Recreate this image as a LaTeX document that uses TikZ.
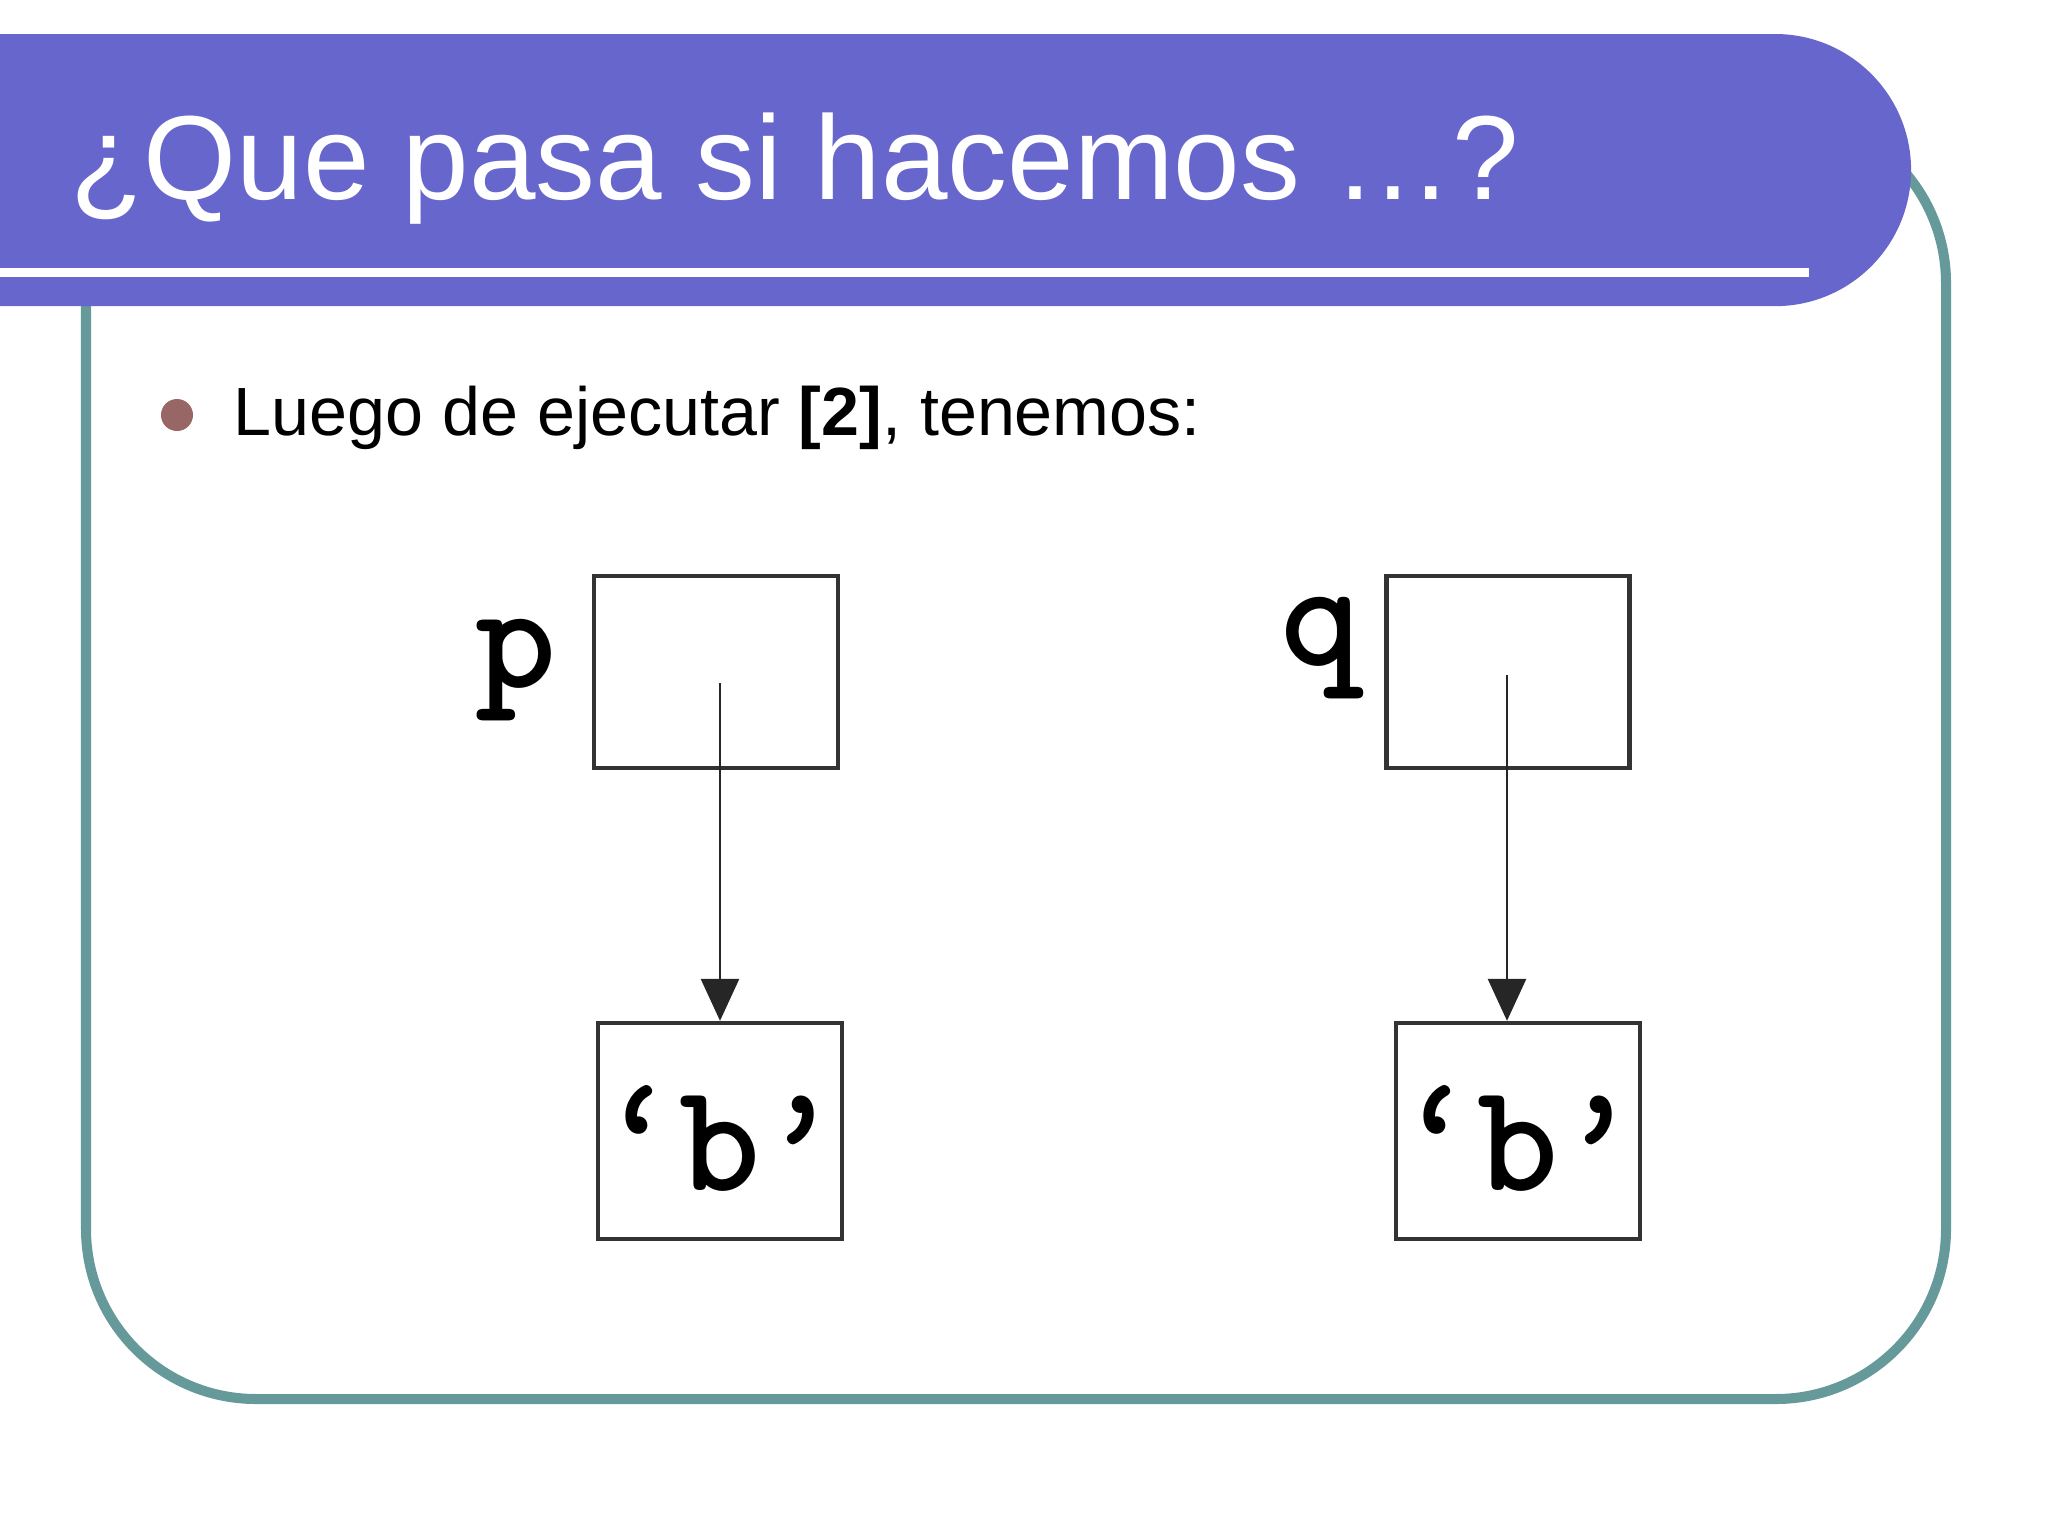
\documentclass[tikz,border=0pt]{standalone}
\usepackage{fontspec}
\setmainfont{Liberation Sans}
\usepackage{xcolor}
\usetikzlibrary{shapes,arrows,positioning,arrows.meta}

\definecolor{bandblue}{RGB}{102,102,204}
\definecolor{frameteal}{RGB}{102,153,153}
\definecolor{dotbrown}{RGB}{153,102,102}

\tikzset{
    cellbox/.style={draw=black!80, line width=1.2pt, inner sep=0pt},
    cellfont/.style={font=\fontsize{44pt}{44pt}\selectfont\ttfamily\bfseries},
    ptr/.style={draw=black!85, line width=0.8pt, -{Triangle[length=0.42cm,width=0.38cm]}}
}

\begin{document}
\begin{tikzpicture}[x=0.01cm, y=0.01cm]
    \useasboundingbox (0,0) rectangle (2048,-1536);

    % Slide frame and title band
    \draw[frameteal, line width=2.85pt, rounded corners=1.7cm] (86,-113) rectangle (1946,-1399);
    \fill[bandblue] (0,-34) -- (1775,-34) arc[start angle=90, end angle=-90, radius=1.36cm] -- (0,-306) -- cycle;
    \fill[white] (0,-268) rectangle (1809,-277);
    \node[anchor=base west, inner sep=0pt, text=white, font=\fontsize{34pt}{34pt}\selectfont]
        (title) at (70,-199) {¿Que pasa si hacemos …?};

    % Bullet line
    \fill[dotbrown] (177,-415) circle[radius=0.16cm];
    \node[anchor=base west, inner sep=0pt, font=\fontsize{19.4pt}{19.4pt}\selectfont]
        (item) at (233,-435) {Luego de ejecutar \textbf{[2]}, tenemos:};

    % Pointer cells
    \node[cellbox, minimum width=2.44cm, minimum height=1.92cm] (pbox) at (716,-672) {};
    \node[cellbox, minimum width=2.43cm, minimum height=1.92cm] (qbox) at (1508,-672) {};
    \node[cellfont, anchor=base, inner sep=0pt] (plabel) at (516,-687) {p};
    \node[cellfont, anchor=base, inner sep=0pt] (qlabel) at (1321,-665) {q};

    % Pointed-to cells
    \node[cellbox, cellfont, minimum width=2.35cm, minimum height=2.16cm,
          text height=1.18cm, text depth=0pt] (pval) at (720,-1131) {\char"2018 b\char"2019};
    \node[cellbox, cellfont, minimum width=2.37cm, minimum height=2.16cm,
          text height=1.18cm, text depth=0pt] (qval) at (1518,-1131) {\char"2018 b\char"2019};

    % Arrows
    \coordinate (pstart) at (720,-683);
    \coordinate (qstart) at (1507,-675);
    \draw[ptr] (pstart) -- (pstart |- pval.north);
    \draw[ptr] (qstart) -- (qstart |- qval.north);
\end{tikzpicture}
\end{document}
